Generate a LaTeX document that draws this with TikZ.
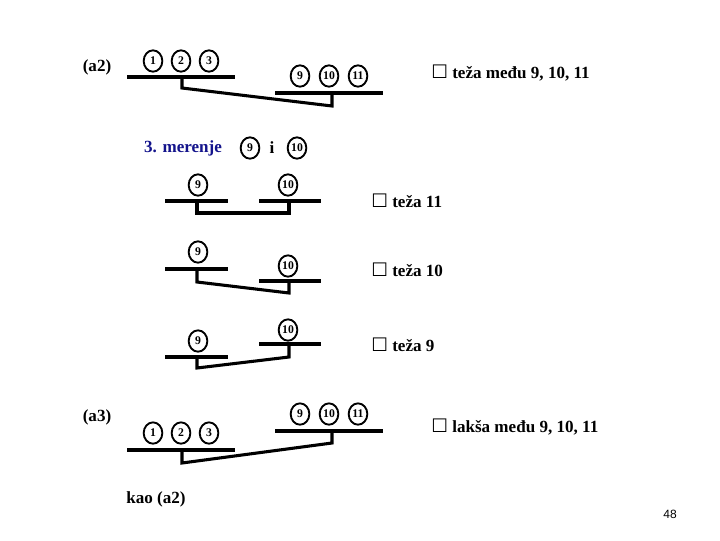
\documentclass[tikz,border=0pt]{standalone}
\usepackage{fontspec}
\setmainfont{Liberation Serif}
\newfontfamily\symf{DejaVu Sans}
\newfontfamily\pgnf{Liberation Sans}
\usetikzlibrary{shapes.geometric}
\definecolor{mernavy}{RGB}{20,20,140}
\newcommand{\chkbox}{{\symf\fontsize{14}{14}\selectfont ☐}}
\begin{document}
\begin{tikzpicture}[x=0.75pt,y=-0.75pt,
  ball/.style={draw, ellipse, line width=1.4pt, inner sep=0pt, minimum width=14pt, minimum height=16pt, font=\fontsize{8.8}{10}\selectfont\bfseries},
  bar/.style={line width=2.3pt},
  beam/.style={line width=2.3pt, line join=miter},
  lbl/.style={anchor=west, inner sep=0pt, font=\fontsize{12.8}{14}\selectfont\bfseries},
  side/.style={inner sep=0pt, font=\fontsize{12.8}{14}\selectfont\bfseries}]
\fill[white] (0,0) rectangle (720,540);
\useasboundingbox (0,0) rectangle (720,540);

% ---------- (a2)
\node[side] (a2) at (97,67) {(a2)};
\node[ball] (p1) at (153,61) {1};
\node[ball] (p2) at (181,61) {2};
\node[ball] (p3) at (209,61) {3};
\node[ball] (p9) at (300,76) {9};
\node[ball] (p10) at (329,76) {10};
\node[ball] (p11) at (358,76) {11};
\draw[bar] (127,77) -- (235,77);
\draw[bar] (275,93) -- (383,93);
\draw[beam] (182,77) -- (182,88) -- (332,106) -- (332,93);
\node[lbl] (r1) at (431,73) {\chkbox\ teža među 9, 10, 11};

% ---------- 3. merenje
\node[side, text=mernavy] (mer) at (183,148) {3. merenje};
\node[ball] (m9) at (250,148) {9};
\node[side] (mi) at (272,148) {i};
\node[ball] (m10) at (297,148) {10};

% ---------- row 1
\node[ball] (a9) at (198,185) {9};
\node[ball] (a10) at (288,185) {10};
\draw[bar] (165,201) -- (228,201);
\draw[bar] (259,201) -- (321,201);
\draw[beam] (197,201) -- (197,213) -- (289,213) -- (289,201);
\node[lbl] (r2) at (371,201) {\chkbox\ teža 11};

% ---------- row 2
\node[ball] (b9) at (198,252) {9};
\node[ball] (b10) at (288,266) {10};
\draw[bar] (165,269) -- (228,269);
\draw[bar] (259,281) -- (321,281);
\draw[beam] (197,269) -- (197,282) -- (289,293) -- (289,281);
\node[lbl] (r3) at (371,270) {\chkbox\ teža 10};

% ---------- row 3
\node[ball] (c10) at (288,330) {10};
\node[ball] (c9) at (198,341) {9};
\draw[bar] (165,357) -- (228,357);
\draw[bar] (259,344) -- (321,344);
\draw[beam] (197,357) -- (197,368) -- (289,357) -- (289,344);
\node[lbl] (r4) at (371,345) {\chkbox\ teža 9};

% ---------- (a3)
\node[side] (a3) at (97,417) {(a3)};
\node[ball] (q1) at (153,433) {1};
\node[ball] (q2) at (181,433) {2};
\node[ball] (q3) at (209,433) {3};
\node[ball] (q9) at (300,414) {9};
\node[ball] (q10) at (329,414) {10};
\node[ball] (q11) at (358,414) {11};
\draw[bar] (127,450) -- (235,450);
\draw[bar] (275,431) -- (383,431);
\draw[beam] (182,450) -- (182,463) -- (332,443) -- (332,431);
\node[lbl] (r5) at (431,427) {\chkbox\ lakša među 9, 10, 11};

\node[side] (kao) at (156,499) {kao (a2)};
\node[inner sep=0pt, font=\pgnf\fontsize{9}{10}\selectfont] (pg) at (670,514) {48};
\end{tikzpicture}
\end{document}
